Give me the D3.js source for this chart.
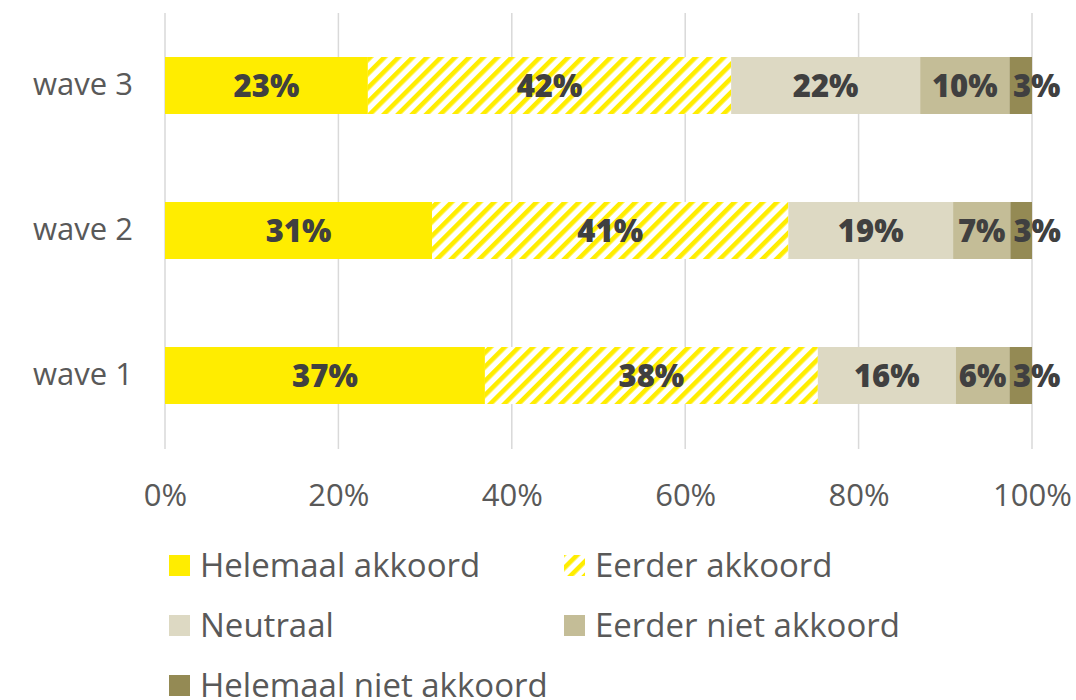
<!DOCTYPE html>
<html>
<head>
<meta charset="utf-8">
<script src="https://cdn.jsdelivr.net/npm/d3@7"></script>
<style>
  body { margin: 0; background: #fff; }
  svg { font-family: "Open Sans", "Noto Sans", sans-serif; }
</style>
</head>
<body>
<svg id="chart" width="1076" height="700"></svg>
<script>
// waves, top to bottom
var waves = ["wave 3", "wave 2", "wave 1"];
var seriesNames = ["Helemaal akkoord", "Eerder akkoord", "Neutraal", "Eerder niet akkoord", "Helemaal niet akkoord"];
var helemaalAkkoord = [23.4, 30.8, 36.9];
var eerderAkkoord = [41.9, 41.1, 38.4];
var neutraal = [21.8, 19.0, 15.9];
var eerderNiet = [10.3, 6.6, 6.2];
var helemaalNiet = [2.6, 2.5, 2.6];
var xTicks = [0, 20, 40, 60, 80, 100];

var colors = ["#ffed00", "url(#hatch)", "#ddd9c3", "#c4bd97", "#948a54"];

var svg = d3.select("#chart");

// hatch pattern for "Eerder akkoord"
var defs = svg.append("defs");
var pat = defs.append("pattern")
    .attr("id", "hatch")
    .attr("patternUnits", "userSpaceOnUse")
    .attr("width", 10).attr("height", 10)
    .attr("patternTransform", "rotate(45)");
pat.append("rect").attr("width", 10).attr("height", 10).attr("fill", "#fff");
pat.append("rect").attr("width", 4.6).attr("height", 10).attr("fill", "#ffed00");

var x = d3.scaleLinear().domain([0, 100]).range([165, 1032]);
var y = d3.scaleBand().domain(waves).range([13, 448]).paddingInner(0.607).paddingOuter(0.3035);

// gridlines
svg.append("g").selectAll("line")
    .data(xTicks)
    .join("line")
    .attr("x1", function(d) { return x(d); })
    .attr("x2", function(d) { return x(d); })
    .attr("y1", 13).attr("y2", 449)
    .attr("stroke", "#d9d9d9").attr("stroke-width", 1.5);

// x axis labels
var xAxis = svg.append("g")
    .attr("transform", "translate(0,481)")
    .call(d3.axisBottom(x).tickValues(xTicks).tickFormat(function(d) { return d + "%"; }).tickSize(0));
xAxis.select(".domain").remove();
xAxis.selectAll("text")
    .attr("font-size", 31).attr("fill", "#595959").attr("dy", "0.71em")
    .attr("font-family", "\"Open Sans\", sans-serif");

// y axis labels
var yAxis = svg.append("g")
    .attr("transform", "translate(133,0)")
    .call(d3.axisLeft(y).tickSize(0).tickPadding(0));
yAxis.select(".domain").remove();
yAxis.selectAll("text")
    .attr("font-size", 31).attr("fill", "#595959")
    .attr("font-family", "\"Open Sans\", sans-serif");

// stacked data
var rows = waves.map(function(w, i) {
    return { wave: w, values: [helemaalAkkoord[i], eerderAkkoord[i], neutraal[i], eerderNiet[i], helemaalNiet[i]] };
});
var segs = [];
rows.forEach(function(r) {
    var acc = 0;
    r.values.forEach(function(v, k) {
        segs.push({ wave: r.wave, k: k, x0: acc, x1: acc + v, v: v });
        acc += v;
    });
});

svg.append("g").selectAll("rect")
    .data(segs)
    .join("rect")
    .attr("x", function(d) { return x(d.x0); })
    .attr("width", function(d) { return x(d.x1) - x(d.x0); })
    .attr("y", function(d) { return y(d.wave); })
    .attr("height", y.bandwidth())
    .attr("fill", function(d) { return colors[d.k]; });

svg.append("g").selectAll("text")
    .data(segs)
    .join("text")
    .attr("x", function(d) { return (x(d.x0) + x(d.x1)) / 2 + (d.k === 4 ? 16 : 0); })
    .attr("y", function(d) { return y(d.wave) + y.bandwidth() / 2; })
    .attr("dy", "0.36em")
    .attr("text-anchor", "middle")
    .attr("font-size", 31).attr("font-weight", 800)
    .attr("fill", "#404040")
    .text(function(d) { return Math.round(d.v) + "%"; });

// legend
var legendPos = [[169, 565], [564, 565], [169, 625], [564, 625], [169, 685]];
var leg = svg.append("g").selectAll("g")
    .data(seriesNames)
    .join("g")
    .attr("transform", function(d, i) { return "translate(" + legendPos[i][0] + "," + legendPos[i][1] + ")"; });
leg.append("rect")
    .attr("x", 0).attr("y", -10).attr("width", 21).attr("height", 21)
    .attr("fill", function(d, i) { return colors[i]; });
leg.append("text")
    .attr("x", 31).attr("dy", "0.36em")
    .attr("font-size", 33).attr("fill", "#595959")
    .text(function(d) { return d; });
</script>
</body>
</html>
